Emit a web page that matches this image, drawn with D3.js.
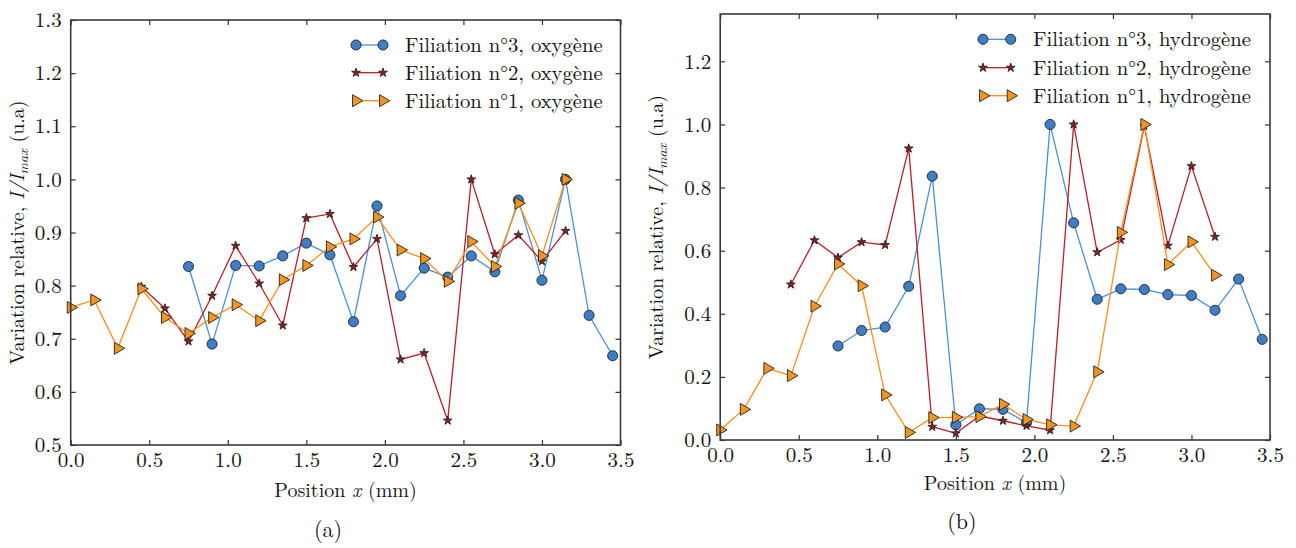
<!DOCTYPE html>
<html><head><meta charset="utf-8">
<script src="https://cdnjs.cloudflare.com/ajax/libs/d3/7.8.5/d3.min.js"></script>
<style>
html,body{margin:0;padding:0;background:#fff;}
svg{display:block;}
</style></head>
<body><svg id="c" width="1296" height="548"></svg>
<script>
// ---------- data ----------
const oxyF3x = [0.75,0.9,1.05,1.2,1.35,1.5,1.65,1.8,1.95,2.1,2.25,2.4,2.55,2.7,2.85,3.0,3.15,3.3,3.45];
const oxyF3y = [0.836,0.690,0.838,0.837,0.856,0.880,0.858,0.732,0.950,0.781,0.833,0.816,0.856,0.826,0.961,0.810,1.000,0.744,0.668];
const oxyF2x = [0.45,0.6,0.75,0.9,1.05,1.2,1.35,1.5,1.65,1.8,1.95,2.1,2.25,2.4,2.55,2.7,2.85,3.0,3.15];
const oxyF2y = [0.798,0.757,0.695,0.781,0.875,0.804,0.725,0.927,0.935,0.835,0.888,0.661,0.673,0.546,1.000,0.859,0.895,0.846,0.903];
const oxyF1x = [0,0.15,0.3,0.45,0.6,0.75,0.9,1.05,1.2,1.35,1.5,1.65,1.8,1.95,2.1,2.25,2.4,2.55,2.7,2.85,3.0,3.15];
const oxyF1y = [0.759,0.773,0.682,0.794,0.740,0.710,0.740,0.764,0.734,0.811,0.838,0.873,0.888,0.929,0.867,0.851,0.808,0.883,0.836,0.955,0.856,1.000];

const hydF3x = [0.75,0.9,1.05,1.2,1.35,1.5,1.65,1.8,1.95,2.1,2.25,2.4,2.55,2.7,2.85,3.0,3.15,3.3,3.45];
const hydF3y = [0.298,0.347,0.358,0.487,0.836,0.048,0.099,0.097,0.055,1.000,0.688,0.446,0.479,0.477,0.461,0.458,0.411,0.510,0.319];
const hydF2x = [0.45,0.6,0.75,0.9,1.05,1.2,1.35,1.5,1.65,1.8,1.95,2.1,2.25,2.4,2.55,2.7,2.85,3.0,3.15];
const hydF2y = [0.493,0.633,0.578,0.627,0.618,0.924,0.042,0.021,0.076,0.061,0.045,0.031,1.000,0.595,0.634,0.995,0.616,0.868,0.644];
const hydF1x = [0,0.15,0.3,0.45,0.6,0.75,0.9,1.05,1.2,1.35,1.5,1.65,1.8,1.95,2.1,2.25,2.4,2.55,2.7,2.85,3.0,3.15];
const hydF1y = [0.032,0.097,0.227,0.204,0.424,0.558,0.489,0.143,0.024,0.071,0.072,0.074,0.113,0.065,0.048,0.044,0.216,0.658,1.000,0.556,0.628,0.522];

const xTicks = [0,0.5,1.0,1.5,2.0,2.5,3.0,3.5];
const yTicksA = [0.5,0.6,0.7,0.8,0.9,1.0,1.1,1.2,1.3];
const yTicksB = [0.0,0.2,0.4,0.6,0.8,1.0,1.2];
const labelsA = ["Filiation n°3, oxygène","Filiation n°2, oxygène","Filiation n°1, oxygène"];
const labelsB = ["Filiation n°3, hydrogène","Filiation n°2, hydrogène","Filiation n°1, hydrogène"];

// ---------- style ----------
const FONT = "'Latin Modern Roman','Liberation Serif',serif";
const styles = [
  {line:"#4a90d9", fill:"#3d7ec6", sym:d3.symbolCircle, size:80, rot:0},
  {line:"#b5202a", fill:"#9c1820", sym:d3.symbolStar, size:24, rot:0},
  {line:"#ff8c1a", fill:"#f5951f", sym:d3.symbolTriangle, size:62, rot:90}
];
const FS = 20, FT = 21, FL = 20.7;
const TXT = "#151515";
const svg = d3.select("#c");

function panel(o){
  const g = svg.append("g");
  const x = d3.scaleLinear().domain([0,3.5]).range([o.left,o.right]);
  const y = d3.scaleLinear().domain(o.ydom).range([o.bottom,o.top]);
  const fmt = d3.format(".1f");
  o.series.forEach((s,i)=>{
    const st = styles[i];
    const pts = s.x.map((v,j)=>[v,s.y[j]]);
    g.append("path").attr("d", d3.line().x(d=>x(d[0])).y(d=>y(d[1]))(pts))
      .attr("fill","none").attr("stroke",st.line).attr("stroke-width",1.3);
    g.selectAll(null).data(pts).enter().append("path")
      .attr("d", d3.symbol().type(st.sym).size(st.size)())
      .attr("transform", d=>`translate(${x(d[0])},${y(d[1])}) rotate(${st.rot})`)
      .attr("fill",st.fill).attr("stroke","#222").attr("stroke-width",0.9);
  });
  const ax = g.append("g");
  ax.append("g").attr("transform",`translate(0,${o.bottom})`)
    .call(d3.axisBottom(x).tickValues(xTicks).tickSizeInner(-5).tickSizeOuter(0).tickPadding(7).tickFormat(fmt));
  ax.append("g").attr("transform",`translate(0,${o.top})`)
    .call(d3.axisTop(x).tickValues(xTicks).tickSizeInner(-5).tickSizeOuter(0).tickFormat(""));
  ax.append("g").attr("transform",`translate(${o.left},0)`)
    .call(d3.axisLeft(y).tickValues(o.yticks).tickSizeInner(-5).tickSizeOuter(0).tickPadding(9).tickFormat(fmt));
  ax.append("g").attr("transform",`translate(${o.right},0)`)
    .call(d3.axisRight(y).tickValues(o.yticks).tickSizeInner(-5).tickSizeOuter(0).tickFormat(""));
  ax.selectAll(".domain").remove();
  ax.selectAll(".tick line").attr("stroke","#333").attr("stroke-width",1.2);
  ax.selectAll(".tick text").attr("font-size",FT).attr("fill",TXT);
  g.append("rect").attr("x",o.left).attr("y",o.top).attr("width",o.right-o.left).attr("height",o.bottom-o.top)
    .attr("fill","none").attr("stroke","#3a3a3a").attr("stroke-width",1.6);
  o.labels.forEach((lab,i)=>{
    const st = styles[i];
    const ly = o.legY[i];
    g.append("line").attr("x1",o.legX[0]).attr("x2",o.legX[1]).attr("y1",ly).attr("y2",ly)
      .attr("stroke",st.line).attr("stroke-width",1.3);
    [o.legX[0],o.legX[1]].forEach(px=>{
      g.append("path").attr("d", d3.symbol().type(st.sym).size(st.size)())
        .attr("transform",`translate(${px},${ly}) rotate(${st.rot})`)
        .attr("fill",st.fill).attr("stroke","#222").attr("stroke-width",0.9);
    });
    g.append("text").attr("x",o.legText).attr("y",ly+7).attr("font-size",FL).attr("fill",TXT).text(lab);
  });
  const xt = g.append("text").attr("x",(o.left+o.right)/2).attr("y",o.xTitleY).attr("text-anchor","middle")
    .attr("font-size",FS).attr("fill",TXT);
  xt.append("tspan").text("Position ");
  xt.append("tspan").attr("font-style","italic").text("x");
  xt.append("tspan").text(" (mm)");
  const yt = g.append("text").attr("transform",`translate(${o.yTitleX},${(o.top+o.bottom)/2}) rotate(-90)`)
    .attr("text-anchor","middle").attr("font-size",FS).attr("fill",TXT);
  yt.append("tspan").text("Variation relative, ");
  yt.append("tspan").attr("font-style","italic").text("I/I");
  yt.append("tspan").attr("font-style","italic").attr("font-size",14).attr("dy",4).text("max");
  yt.append("tspan").attr("dy",-4).text(" (u.a)");
  svg.append("text").attr("x",o.capX).attr("y",o.capY).attr("text-anchor","middle")
    .attr("font-size",FS+2).attr("fill",TXT).text(o.cap);
}

panel({left:70.7,right:620.5,top:20,bottom:445,ydom:[0.5,1.3],yticks:yTicksA,
  series:[{x:oxyF3x,y:oxyF3y},{x:oxyF2x,y:oxyF2y},{x:oxyF1x,y:oxyF1y}],
  labels:labelsA,legX:[356,383],legY:[45,72.7,100.7],legText:405,
  xTitleY:497,yTitleX:24,cap:"(a)",capX:328,capY:537});
panel({left:720.2,right:1270,top:14,bottom:440,ydom:[0,1.35],yticks:yTicksB,
  series:[{x:hydF3x,y:hydF3y},{x:hydF2x,y:hydF2y},{x:hydF1x,y:hydF1y}],
  labels:labelsB,legX:[983,1010.7],legY:[39.3,67.7,95.7],legText:1033,
  xTitleY:490,yTitleX:663,cap:"(b)",capX:962,capY:529});

svg.selectAll("text").style("font-family",FONT);
</script></body></html>
